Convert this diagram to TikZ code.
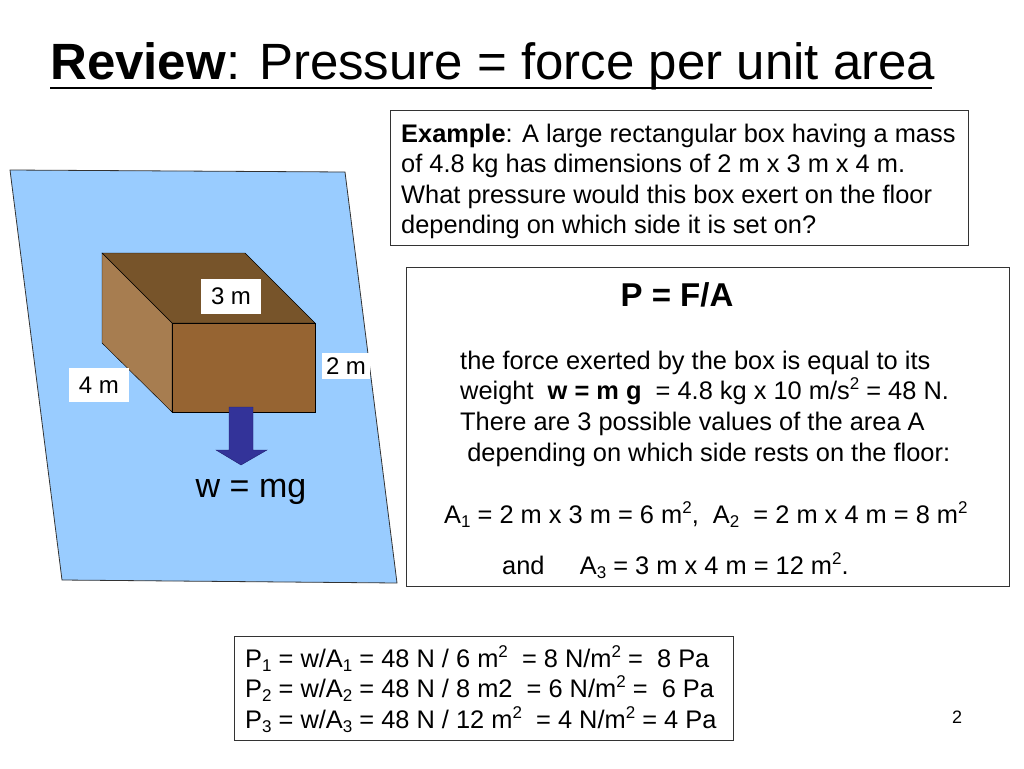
\documentclass[tikz,border=0pt]{standalone}
\usepackage{fontspec}
\setmainfont{Liberation Sans}
\newcommand\sbs[1]{\raisebox{-0.35ex}{\fontsize{17}{17}\selectfont #1}}
\newcommand\sps[1]{\raisebox{0.7ex}{\fontsize{17}{17}\selectfont #1}}
\begin{document}
\begin{tikzpicture}[x=1pt,y=-1pt,
  txt/.style={anchor=base west,inner sep=0pt,font=\fontsize{25.4}{28}\selectfont},
  lbl/.style={fill=white,inner xsep=10pt,inner ysep=9pt,font=\fontsize{24}{28}\selectfont},
  frame/.style={draw=black!80,line width=0.8pt}]
\useasboundingbox (0,0) rectangle (1024,768);
% plane
\filldraw[fill={rgb,255:red,153;green,204;blue,255},draw=black!80,line width=0.8pt]
  (10,170) -- (345,172) -- (397,583) -- (62,580) -- cycle;
% box
\filldraw[fill={rgb,255:red,119;green,84;blue,42},draw=black] (102,253) -- (245,253) -- (315,323) -- (172,323) -- cycle;
\filldraw[fill={rgb,255:red,167;green,125;blue,80},draw=black] (102,253) -- (172,323) -- (172,412) -- (102,343) -- cycle;
\filldraw[fill={rgb,255:red,150;green,100;blue,50},draw=black] (172,323) rectangle (315,412);
% arrow
\filldraw[fill={rgb,255:red,51;green,51;blue,153},draw={rgb,255:red,30;green,30;blue,110}]
  (229,407) -- (253,407) -- (253,450) -- (267,450) -- (241,465) -- (216,450) -- (229,450) -- cycle;
\node[lbl] (l3) at (231,296) {3 m};
\node[lbl,inner xsep=4pt,inner ysep=5pt] (l2) at (346,366) {2 m};
\node[lbl] (l4) at (99,385) {4 m};
\node[inner sep=0pt,font=\fontsize{34}{36}\selectfont] (w) at (251,492) {w = mg};
% title
\node[anchor=base west,inner sep=0pt,font=\fontsize{51}{54}\selectfont] (title) at (50,79) {\textbf{Review}: Pressure = force per unit area};
\draw[line width=2pt] (50,88) -- (932,88);
% example
\draw[frame] (390,110) rectangle (968,245);
\node[txt] (e1) at (401,142) {\textbf{Example}: A large rectangular box having a mass};
\node[txt] (e2) at (401,172) {of 4.8 kg has dimensions of 2 m x 3 m x 4 m.};
\node[txt] (e3) at (401,203) {What pressure would this box exert on the floor};
\node[txt] (e4) at (401,233) {depending on which side it is set on?};
% main box
\draw[frame] (406,267) rectangle (1009,586);
\node[anchor=base,inner sep=0pt,font=\fontsize{33}{36}\selectfont\bfseries] (pfa) at (677,306) {P = F/A};
\node[txt] (m1) at (460,369) {the force exerted by the box is equal to its};
\node[txt] (m2) at (460,399) {weight \ \textbf{w = m g} \ = 4.8 kg x 10 m/s\sps{2} = 48 N.};
\node[txt] (m3) at (460,430) {There are 3 possible values of the area A};
\node[txt] (m4) at (460,461) {\ depending on which side rests on the floor:};
\node[txt] (a1) at (444,523) {A\sbs{1} = 2 m x 3 m = 6 m\sps{2}, \ A\sbs{2} \ = 2 m x 4 m = 8 m\sps{2}};
\node[txt] (a3) at (502,574) {and \ \ \ \ A\sbs{3} = 3 m x 4 m = 12 m\sps{2}.};
% bottom
\draw[frame] (234,636) rectangle (733,740);
\node[txt] (p1) at (245,667) {P\sbs{1} = w/A\sbs{1} = 48 N / 6 m\sps{2} \ = 8 N/m\sps{2} = \ 8 Pa};
\node[txt] (p2) at (245,697) {P\sbs{2} = w/A\sbs{2} = 48 N / 8 m2 \ = 6 N/m\sps{2} = \ 6 Pa};
\node[txt] (p3) at (245,728) {P\sbs{3} = w/A\sbs{3} = 48 N / 12 m\sps{2} \ = 4 N/m\sps{2} = 4 Pa};
\node[inner sep=0pt,font=\fontsize{18}{20}\selectfont] (pg) at (957,717) {2};
\end{tikzpicture}
\end{document}
